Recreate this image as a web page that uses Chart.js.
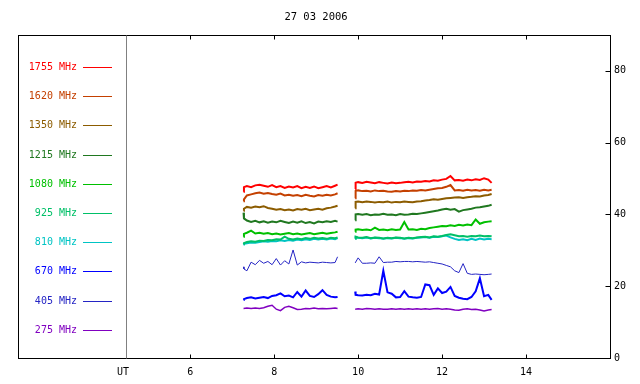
<!DOCTYPE html>
<html>
<head>
<meta charset="utf-8">
<script src="https://cdn.jsdelivr.net/npm/chart.js@4.4.0/dist/chart.umd.min.js"></script>
<style>
  html, body { margin: 0; padding: 0; background: #fff; }
  #wrap { width: 640px; height: 384px; }
</style>
</head>
<body>
<div id="wrap"><canvas id="chart" width="640" height="384"></canvas></div>
<script>
// Data (UT hours; null = data gap)
const hours = [7.27, 7.28, 7.35, 7.45, 7.55, 7.65, 7.75, 7.85, 7.95, 8.05, 8.15, 8.25, 8.35, 8.45, 8.55,
  8.65, 8.75, 8.85, 8.95, 9.05, 9.15, 9.25, 9.35, 9.45, 9.51, 9.7,
  9.93, 9.94, 10.0, 10.1, 10.2, 10.3, 10.4, 10.5, 10.6, 10.7, 10.8, 10.9, 11.0, 11.1, 11.2, 11.3,
  11.4, 11.5, 11.6, 11.7, 11.8, 11.9, 12.0, 12.1, 12.2, 12.3, 12.4, 12.5, 12.6, 12.7, 12.8, 12.9,
  13.0, 13.1, 13.18];

const title = '27 03 2006';
const xTicks = [6, 8, 10, 12, 14];
const yTicks = [0, 20, 40, 60, 80];
const freqLabels = ['1755 MHz', '1620 MHz', '1350 MHz', '1215 MHz', '1080 MHz',
  '925 MHz', '810 MHz', '670 MHz', '405 MHz', '275 MHz'];
const freqColors = ['#ff0000', '#c44000', '#8c5c00', '#207820', '#00c000',
  '#00c068', '#00c4c4', '#0000ff', '#2424c4', '#8000c0'];

const f1755 = [46.3, 47.6, 47.9, 47.6, 48.1, 48.3, 48.0, 47.7, 48.2, 47.6, 47.9, 47.4, 47.8, 47.5, 47.9,
  47.3, 47.7, 47.4, 47.8, 47.3, 47.6, 47.9, 47.5, 48.0, 48.3, null,
  47.1, 48.8, 49.0, 48.8, 49.1, 48.9, 48.7, 49.0, 48.8, 48.6, 48.9, 48.7, 48.8, 49.0, 49.1, 48.9,
  49.2, 49.1, 49.3, 49.2, 49.5, 49.4, 49.7, 49.9, 50.7, 49.5, 49.6, 49.4, 49.7, 49.5, 49.8, 49.6,
  50.1, 49.7, 48.8];
const f1620 = [43.7, 44.2, 45.3, 45.6, 45.9, 46.1, 45.8, 46.0, 45.7, 45.5, 45.8, 45.3, 45.5, 45.2, 45.4,
  45.1, 45.5, 45.2, 45.0, 45.4, 45.2, 45.5, 45.3, 45.6, 45.9, null,
  44.5, 46.5, 46.7, 46.5, 46.6, 46.4, 46.7, 46.5, 46.6, 46.4, 46.3, 46.5, 46.4, 46.6, 46.5, 46.7,
  46.6, 46.8, 46.7, 46.9, 47.1, 47.3, 47.4, 47.7, 48.2, 46.7, 46.8, 46.6, 46.9, 46.7, 46.8, 46.6,
  46.9, 46.7, 46.9];
const f1350 = [41.0, 41.6, 42.1, 41.9, 42.2, 42.0, 42.3, 41.8, 41.6, 41.3, 41.5, 41.2, 41.4, 41.1, 41.5,
  41.3, 41.6, 41.2, 41.4, 41.6, 41.3, 41.7, 41.9, 42.2, 42.4, null,
  41.7, 43.5, 43.6, 43.4, 43.6, 43.5, 43.3, 43.5, 43.4, 43.6, 43.3, 43.5, 43.4, 43.6, 43.5, 43.4,
  43.6, 43.7, 43.9, 44.0, 44.2, 44.1, 44.3, 44.5, 44.6, 44.7, 44.8, 44.6, 44.8, 44.9, 45.1, 45.0,
  45.3, 45.4, 45.7];
const f1215 = [40.5, 38.9, 38.3, 37.9, 38.2, 37.8, 38.1, 37.7, 38.0, 37.8, 38.2, 37.9, 37.6, 38.0, 37.7,
  38.1, 37.6, 37.9, 37.5, 38.0, 37.8, 38.1, 37.9, 38.2, 38.0, null,
  38.4, 40.0, 40.1, 39.9, 40.1, 39.8, 40.0, 39.9, 40.2, 39.9, 40.0, 39.8, 40.1, 39.9, 40.0, 40.2,
  40.1, 40.3, 40.5, 40.7, 40.9, 41.1, 41.4, 41.6, 41.3, 41.5, 40.8, 41.2, 41.4, 41.6, 41.9, 42.0,
  42.2, 42.4, 42.7];
const f1080 = [33.8, 34.6, 34.9, 35.5, 34.7, 34.9, 34.6, 34.8, 34.5, 34.7, 34.4, 34.6, 34.8, 34.5, 34.7,
  34.4, 34.6, 34.8, 34.5, 34.7, 34.9, 34.6, 34.8, 35.0, 35.2, null,
  35.2, 35.8, 35.9, 35.7, 35.8, 35.6, 36.3, 35.7, 35.8, 35.6, 35.9, 35.7, 35.8, 37.9, 35.8, 35.9,
  35.7, 36.0, 35.9, 36.2, 36.4, 36.6, 36.8, 36.7, 37.0, 36.8, 37.1, 36.9, 37.2, 37.0, 38.6, 37.4,
  37.8, 38.0, 38.1];
const f925 = [31.8, 32.0, 32.3, 32.5, 32.4, 32.7, 32.6, 32.9, 32.8, 33.1, 33.0, 33.8, 33.2, 33.0, 33.3,
  33.1, 33.4, 33.2, 33.5, 33.3, 33.4, 33.2, 33.5, 33.4, 33.6, null,
  33.3, 33.8, 33.6, 33.5, 33.7, 33.4, 33.6, 33.5, 33.3, 33.5, 33.4, 33.6, 33.5, 33.3, 33.5, 33.4,
  33.6, 33.7, 33.8, 33.6, 33.9, 33.8, 34.0, 34.3, 34.5, 34.2, 33.9, 34.0, 33.8, 34.0, 33.9, 34.1,
  33.9, 34.0, 33.9];
const f810 = [31.6, 31.8, 32.0, 32.2, 32.1, 32.3, 32.5, 32.4, 32.6, 32.5, 32.8, 32.6, 32.9, 32.7, 33.0,
  32.8, 33.1, 32.9, 33.2, 33.0, 33.2, 33.0, 33.3, 33.1, 33.4, null,
  33.2, 33.6, 33.5, 33.4, 33.6, 33.3, 33.5, 33.4, 33.2, 33.4, 33.3, 33.5, 33.4, 33.2, 33.4, 33.3,
  33.5, 33.6, 33.7, 33.5, 33.8, 33.7, 33.9, 34.1, 33.6, 33.2, 32.9, 33.1, 32.8, 33.2, 32.9, 33.3,
  33.0, 33.2, 33.1];
const f670 = [16.2, 16.4, 16.7, 16.9, 16.6, 16.8, 17.0, 16.7, 17.3, 17.5, 18.0, 17.2, 17.4, 16.9, 18.4,
  17.1, 18.8, 17.3, 17.0, 17.8, 18.9, 17.6, 17.1, 16.9, 17.0, null,
  18.5, 17.6, 17.5, 17.4, 17.6, 17.5, 17.9, 17.7, 24.3, 18.3, 17.9, 16.9, 17.0, 18.6, 17.1, 16.9,
  16.8, 17.0, 20.5, 20.3, 17.6, 19.4, 18.1, 18.5, 19.8, 17.3, 16.8, 16.5, 16.4, 17.0, 18.6, 22.2,
  17.2, 17.6, 16.2];
const f405 = [25.4, 24.8, 24.3, 26.7, 26.0, 27.2, 26.4, 26.9, 26.0, 27.7, 25.9, 27.1, 26.2, 30.1, 25.9,
  26.8, 26.5, 26.7, 26.6, 26.5, 26.7, 26.6, 26.5, 26.6, 28.2, null,
  26.5, 26.5, 27.9, 26.4, 26.4, 26.5, 26.4, 28.2, 26.6, 26.7, 26.7, 26.9, 26.8, 26.9, 26.9, 26.8,
  26.9, 26.8, 26.7, 26.8, 26.6, 26.4, 26.2, 25.8, 25.4, 24.3, 23.8, 26.3, 23.6, 23.3, 23.4, 23.3,
  23.2, 23.3, 23.4];
const f275 = [13.8, 13.8, 13.9, 13.8, 13.9, 13.8, 14.0, 14.4, 14.7, 13.6, 13.2, 14.1, 14.4, 14.0, 13.5,
  13.6, 13.8, 13.7, 13.9, 13.7, 13.8, 13.7, 13.8, 13.9, 13.8, null,
  13.6, 13.6, 13.7, 13.6, 13.8, 13.7, 13.6, 13.7, 13.6, 13.6, 13.7, 13.6, 13.7, 13.6, 13.7, 13.6,
  13.7, 13.6, 13.7, 13.6, 13.7, 13.8, 13.6, 13.7, 13.6, 13.4, 13.3, 13.6, 13.7, 13.5, 13.6, 13.4,
  13.1, 13.4, 13.5];

const seriesValues = [f1755, f1620, f1350, f1215, f1080, f925, f810, f670, f405, f275];
const lineWidths = [2, 2, 2, 2, 2, 2, 2, 2, 1, 1.5];

const FONT = { family: 'DejaVu Sans Mono', size: 10 };

// Frame, inner ticks, title and the left-hand frequency key
const framePlugin = {
  id: 'frame',
  afterDraw(chart) {
    const { ctx, chartArea: ca, scales } = chart;
    const top = Math.round(ca.top) + 0.5;
    const bottom = Math.round(ca.bottom) + 0.5;
    const right = Math.round(ca.right) + 0.5;
    const left = 18.5;
    ctx.save();
    ctx.lineWidth = 1;
    ctx.strokeStyle = '#000';
    ctx.strokeRect(left, top, right - left, bottom - top);

    ctx.strokeStyle = '#808080';
    const sep = Math.round(ca.left) + 0.5;
    ctx.beginPath();
    ctx.moveTo(sep, top);
    ctx.lineTo(sep, bottom);
    ctx.stroke();

    ctx.strokeStyle = '#000';
    ctx.beginPath();
    xTicks.forEach(v => {
      const x = Math.round(scales.x.getPixelForValue(v)) + 0.5;
      ctx.moveTo(x, bottom); ctx.lineTo(x, bottom - 4);
      ctx.moveTo(x, top); ctx.lineTo(x, top + 4);
    });
    yTicks.slice(1).forEach(v => {
      const y = Math.round(scales.y.getPixelForValue(v)) + 0.5;
      ctx.moveTo(right, y); ctx.lineTo(right - 5, y);
    });
    ctx.stroke();

    ctx.fillStyle = '#000';
    ctx.font = `10.5px ${FONT.family}`;
    ctx.textAlign = 'center';
    ctx.textBaseline = 'middle';
    ctx.fillText(title, 316, 17);

    ctx.font = `${FONT.size}px ${FONT.family}`;
    ctx.textAlign = 'right';
    freqLabels.forEach((label, i) => {
      const y = Math.round(67 + i * 29.2) + 0.5;
      ctx.fillStyle = freqColors[i];
      ctx.fillText(label, 77, y);
      ctx.fillRect(83, y - 0.5, 29, 1);
    });
    ctx.restore();
  }
};

const datasets = freqLabels.map((label, i) => ({
  label: label,
  data: hours.map((h, j) => ({ x: h, y: seriesValues[i][j] })),
  borderColor: freqColors[i],
  borderWidth: lineWidths[i],
  pointRadius: 0,
  tension: 0,
  spanGaps: false,
  fill: false
}));

new Chart(document.getElementById('chart'), {
  type: 'line',
  data: { datasets: datasets },
  options: {
    responsive: false,
    animation: false,
    devicePixelRatio: 1,
    layout: { padding: { left: 126, right: 0, top: 35, bottom: 0 } },
    plugins: {
      legend: { display: false },
      tooltip: { enabled: false },
      title: { display: false }
    },
    scales: {
      x: {
        type: 'linear',
        position: 'bottom',
        min: 4.47,
        max: 16,
        grid: { display: false, drawTicks: false },
        border: { display: false },
        afterBuildTicks: s => { s.ticks = [{ value: 4.4 }].concat(xTicks.map(v => ({ value: v }))); },
        afterFit: s => { s.height = 26; },
        ticks: {
          autoSkip: false,
          maxRotation: 0,
          padding: 8,
          color: '#000',
          font: FONT,
          callback: (v, i) => (i === 0 ? 'UT' : v)
        }
      },
      y: {
        type: 'linear',
        position: 'right',
        min: 0,
        max: 90,
        grid: { display: false, drawTicks: false },
        border: { display: false },
        afterBuildTicks: s => { s.ticks = yTicks.map(v => ({ value: v })); },
        afterFit: s => { s.width = 30; },
        ticks: { padding: 4, color: '#000', font: FONT }
      }
    }
  },
  plugins: [framePlugin]
});
</script>
</body>
</html>
